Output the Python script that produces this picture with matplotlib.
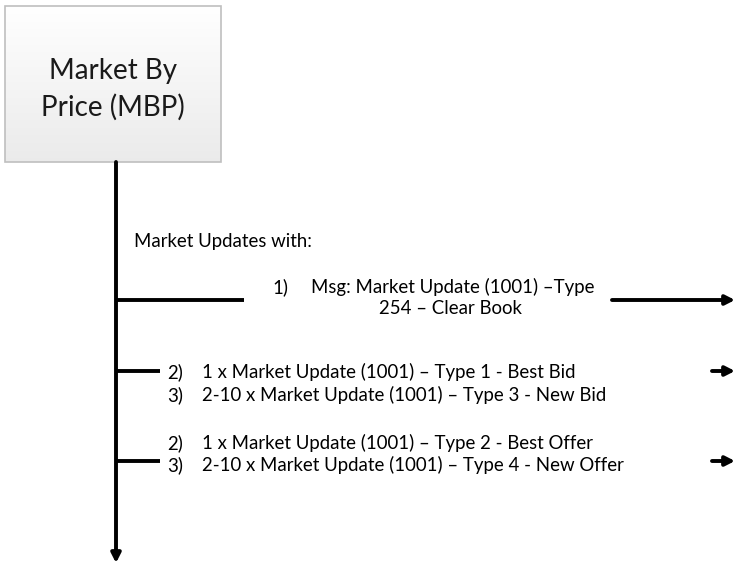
import numpy as np
import matplotlib.pyplot as plt
from matplotlib.patches import Rectangle

plt.rcParams['font.family'] = ['Lato', 'DejaVu Sans']

title = "Market By\nPrice (MBP)"
intro = "Market Updates with:"
clear_num = "1)"
clear_lines = ["Msg: Market Update (1001) \u2013Type", "254 \u2013 Clear Book"]
bid_nums = ["2)", "3)"]
bid_lines = ["1 x Market Update (1001) \u2013 Type 1 - Best Bid",
             "2-10 x Market Update (1001) \u2013 Type 3 - New Bid"]
offer_nums = ["2)", "3)"]
offer_lines = ["1 x Market Update (1001) \u2013 Type 2 - Best Offer",
               "2-10 x Market Update (1001) \u2013 Type 4 - New Offer"]

W, H = 736, 564
fig = plt.figure(figsize=(W / 100, H / 100), dpi=100)
ax = fig.add_axes([0, 0, 1, 1])
ax.set_xlim(0, W)
ax.set_ylim(H, 0)
ax.axis('off')

# box with soft gradient
bx0, by0, bx1, by1 = 5, 6, 221, 162
grad = np.linspace(1.0, 0.92, 100).reshape(-1, 1)
ax.imshow(np.dstack([grad, grad, grad]), extent=(bx0, bx1, by1, by0),
          aspect='auto', zorder=1)
ax.add_patch(Rectangle((bx0, by0), bx1 - bx0, by1 - by0, fill=False,
                       edgecolor='#bfbfbf', lw=1.2, zorder=2))
ax.text((bx0 + bx1) / 2, 89, title, ha='center', va='center', fontsize=20,
        linespacing=1.45, color='#1a1a1a', zorder=3)

lw = 2.8
spine_x = 116
arrow = dict(arrowstyle='-|>,head_length=0.55,head_width=0.28',
             lw=lw, color='black', shrinkA=0, shrinkB=0)
# main vertical arrow
ax.annotate('', xy=(spine_x, 563), xytext=(spine_x, by1), arrowprops=arrow)


def branch(y, x_end, x_arrow):
    ax.plot([spine_x, x_end], [y, y], color='black', lw=lw,
            solid_capstyle='butt')
    ax.annotate('', xy=(W - 1, y), xytext=(x_arrow, y), arrowprops=arrow)


fs = 13.4
ax.text(134, 241, intro, ha='left', va='center', fontsize=fs)

# clear book
branch(300, 244, 612)
ax.text(272, 287, clear_num, ha='left', va='center', fontsize=fs)
ax.text(311, 287, clear_lines[0], ha='left', va='center', fontsize=fs)
ax.text(450, 309, clear_lines[1], ha='center', va='center', fontsize=fs)

# bids
branch(371, 160, 712)
for i, (n, t) in enumerate(zip(bid_nums, bid_lines)):
    ax.text(167, 372 + 23 * i, n, ha='left', va='center', fontsize=fs)
    ax.text(202, 372 + 23 * i, t, ha='left', va='center', fontsize=fs)

# offers
branch(461, 160, 712)
for i, (n, t) in enumerate(zip(offer_nums, offer_lines)):
    ax.text(167, 443 + 22 * i, n, ha='left', va='center', fontsize=fs)
    ax.text(202, 443 + 22 * i, t, ha='left', va='center', fontsize=fs)

fig.savefig('out.png', dpi=100)
